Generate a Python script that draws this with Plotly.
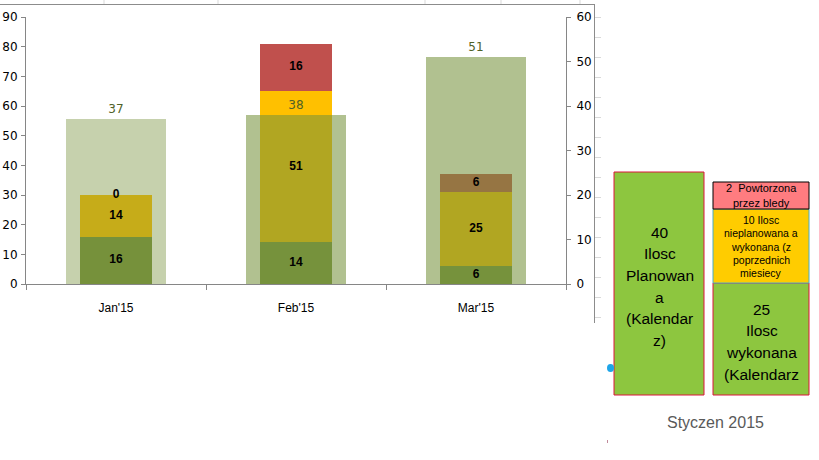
import plotly.graph_objects as go

# ---------------- data ----------------
months = ["Jan'15", "Feb'15", "Mar'15"]
wykonana = [16, 14, 6]          # green segment (left axis)
nieplanowana = [14, 51, 25]     # yellow segment (left axis)
powtorzona = [0, 16, 6]         # red segment (left axis)
planowana = [37, 38, 51]        # wide translucent bar (right axis)

left_ticks = [0, 10, 20, 30, 40, 50, 60, 70, 80, 90]
right_ticks = [0, 10, 20, 30, 40, 50, 60]

box_planned = ["40", "Ilosc", "Planowan", "a", "(Kalendar", "z)"]
box_red = ["2\u00a0 Powtorzona", "przez bledy"]
box_yellow = ["10 Ilosc", "nieplanowana a", "wykonana (z", "poprzednich", "miesiecy"]
box_green = ["25", "Ilosc", "wykonana", "(Kalendarz"]
panel_title = "Styczen 2015"

# ---------------- helpers ----------------
W, H = 819, 460
def fx(p):
    return p / W
def fy(p):
    return 1 - p / H

AX = "#868686"
GREEN = "#76923C"
overlay_colors = ["rgba(118,146,60,0.42)", "rgba(118,146,60,0.57)", "rgba(118,146,60,0.57)"]

fig = go.Figure()

fig.add_trace(go.Bar(x=months, y=wykonana, width=0.4, marker=dict(color=GREEN, line=dict(width=0)),
                     xaxis="x", yaxis="y", hoverinfo="skip"))
fig.add_trace(go.Bar(x=months, y=nieplanowana, width=0.4, marker=dict(color="#FFC000", line=dict(width=0)),
                     xaxis="x", yaxis="y", hoverinfo="skip"))
fig.add_trace(go.Bar(x=months, y=powtorzona, width=0.4, marker=dict(color="#C0504D", line=dict(width=0)),
                     xaxis="x", yaxis="y", hoverinfo="skip"))

# translucent planned bars on the right axis, drawn above the stacks
fig.add_trace(go.Bar(x=months, y=planowana, width=0.556,
                     marker=dict(color=overlay_colors, line=dict(width=0)),
                     text=[str(v) for v in planowana], textposition="outside",
                     textfont=dict(family="DejaVu Sans", size=12, color="#4F6228"),
                     cliponaxis=False, xaxis="x", yaxis="y2", hoverinfo="skip"))

# segment labels (centred in each stacked segment), on a top invisible axis
lab_x, lab_y, lab_t = [], [], []
for i, m in enumerate(months):
    g, yv, r = wykonana[i], nieplanowana[i], powtorzona[i]
    for base, val in ((0, g), (g, yv), (g + yv, r)):
        lab_x.append(m)
        lab_y.append(base + val / 2)
        lab_t.append(str(val))
fig.add_trace(go.Scatter(x=lab_x, y=lab_y, text=lab_t, mode="text",
                         textposition="middle center",
                         textfont=dict(family="Liberation Sans", size=12, color="black", weight="bold"),
                         xaxis="x", yaxis="y3", hoverinfo="skip", cliponaxis=False))

axis_common = dict(showline=True, linecolor=AX, linewidth=1, ticks="outside", tickcolor=AX,
                   showgrid=False, zeroline=False, fixedrange=True, automargin=False)

fig.update_layout(
    width=W, height=H, autosize=False,
    margin=dict(l=0, r=0, t=0, b=0, pad=0, autoexpand=False),
    paper_bgcolor="white", plot_bgcolor="rgba(0,0,0,0)",
    barmode="stack", showlegend=False, hovermode=False,
    xaxis=dict(domain=[fx(26), fx(566)], type="category", range=[-0.5, 2.5],
               tickson="boundaries", ticklen=5, ticklabelstandoff=13,
               tickfont=dict(family="Liberation Sans", size=12, color="black"),
               anchor="y", **axis_common),
    yaxis=dict(domain=[fy(284), fy(17)], range=[0, 90], tickvals=left_ticks, ticklen=4,
               ticklabelstandoff=1,
               tickfont=dict(family="DejaVu Sans", size=12, color="black"),
               anchor="x", **axis_common),
    yaxis2=dict(domain=[fy(284), fy(17)], range=[0, 60], tickvals=right_ticks, ticklen=4,
                overlaying="y", side="right", ticklabelstandoff=3,
                tickfont=dict(family="DejaVu Sans", size=12, color="black"),
                anchor="x", **axis_common),
    yaxis3=dict(domain=[fy(284), fy(17)], range=[0, 90], overlaying="y", visible=False,
                fixedrange=True, anchor="x", automargin=False),
)

shapes = []
# worksheet frame lines
shapes.append(dict(type="line", xref="paper", yref="paper", x0=fx(0), x1=fx(594), y0=fy(4.5), y1=fy(4.5),
                   line=dict(color="#8C8C8C", width=1)))
shapes.append(dict(type="line", xref="paper", yref="paper", x0=fx(594.5), x1=fx(594.5), y0=fy(4), y1=fy(323),
                   line=dict(color="#8C8C8C", width=1)))
for cx in (104, 218, 425, 501, 580):
    shapes.append(dict(type="line", xref="paper", yref="paper", x0=fx(cx), x1=fx(cx), y0=fy(0), y1=fy(4),
                       line=dict(color="#D9D9D9", width=1)))
for k in range(16):
    yy = 17.5 + 20 * k
    shapes.append(dict(type="line", xref="paper", yref="paper", x0=fx(595), x1=fx(601), y0=fy(yy), y1=fy(yy),
                       line=dict(color="#D9D9D9", width=1)))

# right-hand explanatory boxes
BOXG = "#8DC63F"
shapes.append(dict(type="rect", xref="paper", yref="paper", x0=fx(614), x1=fx(704), y0=fy(395), y1=fy(172),
                   fillcolor=BOXG, line=dict(color="#DC143C", width=1)))
shapes.append(dict(type="rect", xref="paper", yref="paper", x0=fx(713), x1=fx(809), y0=fy(395), y1=fy(283),
                   fillcolor=BOXG, line=dict(color="#DC143C", width=1)))
shapes.append(dict(type="rect", xref="paper", yref="paper", x0=fx(713), x1=fx(809), y0=fy(283), y1=fy(209),
                   fillcolor="#FFCC00", line=dict(color="#4BACC6", width=1)))
shapes.append(dict(type="rect", xref="paper", yref="paper", x0=fx(713), x1=fx(809), y0=fy(209), y1=fy(182),
                   fillcolor="#FF7C80", line=dict(color="black", width=1)))
# small blue handle dot and mark
shapes.append(dict(type="circle", xref="paper", yref="paper", x0=fx(607), x1=fx(614), y0=fy(372), y1=fy(364),
                   fillcolor="#1EA5E8", line=dict(width=0)))
shapes.append(dict(type="line", xref="paper", yref="paper", x0=fx(607.5), x1=fx(607.5), y0=fy(440), y1=fy(443),
                   line=dict(color="#C08A9A", width=1)))
fig.update_layout(shapes=shapes)

ann = []
def add_lines(lines, cx, y_first, step, size, color="black"):
    for i, t in enumerate(lines):
        ann.append(dict(text=t, xref="paper", yref="paper", x=fx(cx), y=fy(y_first + i * step),
                        xanchor="center", yanchor="middle", showarrow=False,
                        font=dict(family="Liberation Sans", size=size, color=color)))

add_lines(box_planned, 659.5, 232, 21.7, 15.5)
add_lines(box_green, 761.5, 309, 21.7, 15.5)
add_lines(box_red, 761, 188, 15, 11)
add_lines(box_yellow, 761, 220, 13.3, 10.5)
add_lines([panel_title], 715, 422, 0, 16, color="#595959")
fig.update_layout(annotations=ann)

pin_js = (
    "document.documentElement.style.margin='0';"
    "document.documentElement.style.overflow='hidden';"
    "document.body.style.margin='0';"
    "document.body.style.overflow='hidden';"
    "var d=document.querySelector('.plotly-graph-div');"
    "if(d){d.style.position='fixed';d.style.left='0px';d.style.top='0px';}"
)
fig.write_html("out.html", config={"displayModeBar": False, "staticPlot": True}, post_script=pin_js)
